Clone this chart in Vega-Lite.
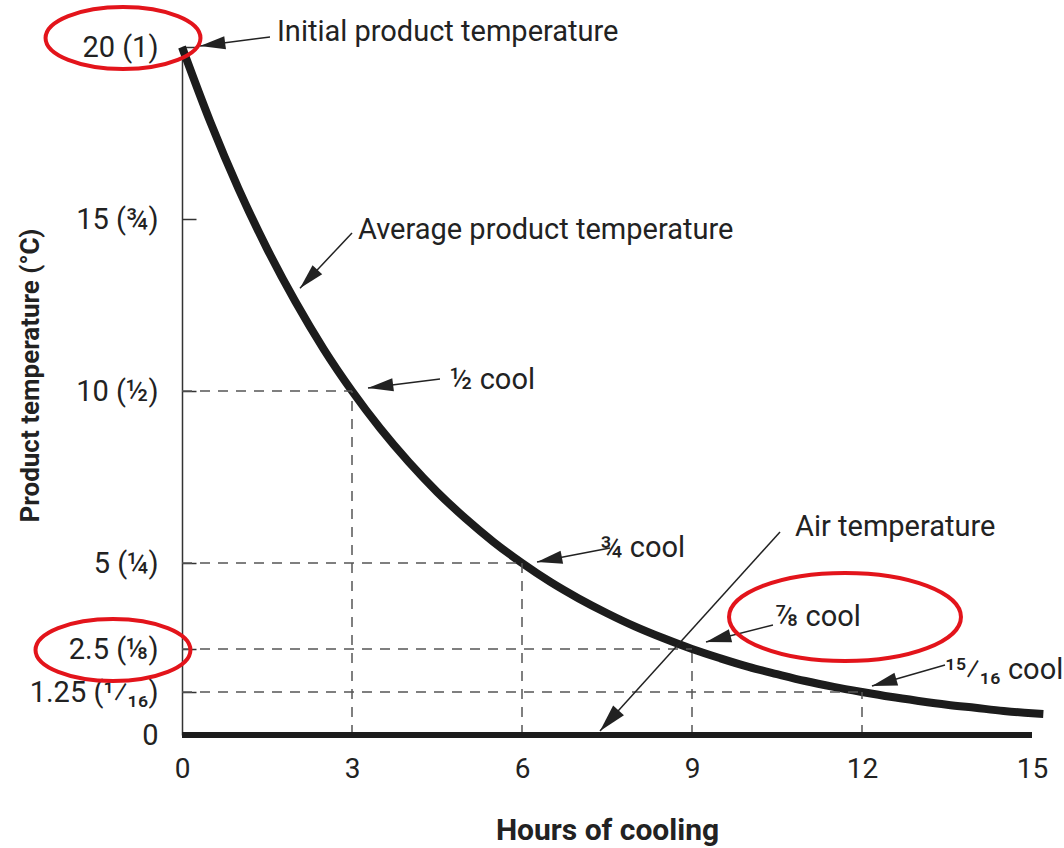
{
  "$schema": "https://vega.github.io/schema/vega-lite/v6.json",
  "width": 850,
  "height": 688,
  "autosize": {"type": "none"},
  "padding": {"left": 182, "top": 47, "right": 32, "bottom": 113},
  "background": "white",
  "config": {
    "view": {"stroke": null},
    "font": "Roboto",
    "axis": {"grid": false, "labelFont": "Roboto", "titleFont": "Roboto", "labelColor": "#222", "titleColor": "#222"}
  },
  "datasets": {
    "curve": [
      {"hours": 0, "temp": 20}, {"hours": 0.5, "temp": 17.82}, {"hours": 1, "temp": 15.87}, {"hours": 1.5, "temp": 14.14},
      {"hours": 2, "temp": 12.6}, {"hours": 2.5, "temp": 11.22}, {"hours": 3, "temp": 10.0}, {"hours": 3.5, "temp": 8.91},
      {"hours": 4, "temp": 7.94}, {"hours": 4.5, "temp": 7.07}, {"hours": 5, "temp": 6.3}, {"hours": 5.5, "temp": 5.61},
      {"hours": 6, "temp": 5.0}, {"hours": 6.5, "temp": 4.45}, {"hours": 7, "temp": 3.97}, {"hours": 7.5, "temp": 3.54},
      {"hours": 8, "temp": 3.15}, {"hours": 8.5, "temp": 2.81}, {"hours": 9, "temp": 2.5}, {"hours": 9.5, "temp": 2.23},
      {"hours": 10, "temp": 1.98}, {"hours": 10.5, "temp": 1.77}, {"hours": 11, "temp": 1.57}, {"hours": 11.5, "temp": 1.4},
      {"hours": 12, "temp": 1.25}, {"hours": 12.5, "temp": 1.11}, {"hours": 13, "temp": 0.99}, {"hours": 13.5, "temp": 0.88},
      {"hours": 14, "temp": 0.79}, {"hours": 14.5, "temp": 0.7}, {"hours": 15, "temp": 0.63}, {"hours": 15.2, "temp": 0.61}
    ],
    "guides": [
      {"hours": 3, "temp": 10, "base": 0}, {"hours": 6, "temp": 5, "base": 0}, {"hours": 9, "temp": 2.5, "base": 0}, {"hours": 12, "temp": 1.25, "base": 0}
    ],
    "air": [{"hours": 0, "hours2": 15, "temp": 0}],
    "notes": [
      {"label": "Initial product temperature", "hours": 1.676, "temp": 20.44},
      {"label": "Average product temperature", "hours": 3.106, "temp": 14.68},
      {"label": "½ cool", "hours": 4.729, "temp": 10.32},
      {"label": "¾ cool", "hours": 7.376, "temp": 5.436},
      {"label": "Air temperature", "hours": 10.818, "temp": 6.047},
      {"label": "⅞ cool", "hours": 10.465, "temp": 3.43},
      {"label": "¹⁵⁄₁₆ cool", "hours": 13.465, "temp": 1.89}
    ],
    "arrows": [
      {"name": "initial", "hours": 1.553, "temp": 20.29, "hours2": 0.318, "temp2": 20.03},
      {"name": "average", "hours": 3.0, "temp": 14.59, "hours2": 2.082, "temp2": 12.99},
      {"name": "half", "hours": 4.553, "temp": 10.35, "hours2": 3.282, "temp2": 10.09},
      {"name": "threequarter", "hours": 7.553, "temp": 5.436, "hours2": 6.265, "temp2": 5.029},
      {"name": "air", "hours": 10.553, "temp": 5.901, "hours2": 7.376, "temp2": 0.116},
      {"name": "seveneighth", "hours": 10.429, "temp": 3.198, "hours2": 9.247, "temp2": 2.703},
      {"name": "fifteen", "hours": 13.465, "temp": 2.035, "hours2": 12.176, "temp2": 1.424}
    ],
    "ellipses": [
      {"name": "a", "hours": -1.041, "temp": 20.26},
      {"name": "b", "hours": -1.218, "temp": 2.47},
      {"name": "c", "hours": 11.7, "temp": 3.43}
    ]
  },
  "layer": [
    {
      "data": {"name": "curve"},
      "mark": {"type": "line", "color": "#1c1c1c", "strokeWidth": 8, "interpolate": "monotone", "clip": false},
      "encoding": {
        "x": {"field": "hours", "type": "quantitative",
              "scale": {"domain": [0, 15], "nice": false, "zero": false},
              "axis": {"title": "Hours of cooling", "values": [0, 3, 6, 9, 12, 15], "format": "d", "domain": false, "ticks": false,
                       "labelFontSize": 28, "labelPadding": 20, "labelFlush": false,
                       "titleFontSize": 30, "titleFontWeight": "bold", "titleX": 425, "titleY": 95,
                       "titleAlign": "center", "titleBaseline": "middle"}},
        "y": {"field": "temp", "type": "quantitative",
              "scale": {"domain": [0, 20], "nice": false, "zero": false},
              "axis": {"title": "Product temperature (°C)", "values": [0, 1.25, 2.5, 5, 10, 15, 20],
                       "labelExpr": "datum.value == 20 ? '20 (1)' : datum.value == 15 ? '15 (¾)' : datum.value == 10 ? '10 (½)' : datum.value == 5 ? '5 (¼)' : datum.value == 2.5 ? '2.5 (⅛)' : datum.value == 1.25 ? '1.25 (¹⁄₁₆)' : '0'",
                       "domain": true, "domainColor": "#333", "domainWidth": 1.5,
                       "ticks": true, "tickSize": -14, "tickColor": "#333", "tickWidth": 1.5,
                       "labelFontSize": 29, "labelPadding": 38, "labelFlush": false,
                       "titleFontSize": 26, "titleFontWeight": "bold", "titleX": -152, "titleY": 328,
                       "titleAlign": "center", "titleBaseline": "middle", "titleAngle": -90}}
      }
    },
    {
      "data": {"name": "guides"},
      "mark": {"type": "rule", "color": "#555", "strokeWidth": 1.5, "strokeDash": [10, 8]},
      "encoding": {
        "x": {"field": "base", "type": "quantitative"},
        "x2": {"field": "hours"},
        "y": {"field": "temp", "type": "quantitative"}
      }
    },
    {
      "data": {"name": "guides"},
      "mark": {"type": "rule", "color": "#555", "strokeWidth": 1.5, "strokeDash": [10, 8]},
      "encoding": {
        "x": {"field": "hours", "type": "quantitative"},
        "y": {"field": "base", "type": "quantitative"},
        "y2": {"field": "temp"}
      }
    },
    {
      "data": {"name": "air"},
      "mark": {"type": "rule", "color": "#1c1c1c", "strokeWidth": 6},
      "encoding": {
        "x": {"field": "hours", "type": "quantitative"},
        "x2": {"field": "hours2"},
        "y": {"field": "temp", "type": "quantitative"}
      }
    },
    {
      "data": {"name": "arrows"},
      "mark": {"type": "rule", "color": "#222", "strokeWidth": 1.5, "clip": false},
      "encoding": {
        "x": {"field": "hours", "type": "quantitative"},
        "y": {"field": "temp", "type": "quantitative"},
        "x2": {"field": "hours2"},
        "y2": {"field": "temp2"}
      }
    },
    {
      "data": {"name": "arrows"},
      "transform": [{"filter": "datum.name == 'initial'"}],
      "mark": {"type": "point", "shape": "M 0 0 L 0.42 1.6 L -0.42 1.6 Z", "size": 1000, "filled": true, "color": "#222", "opacity": 1, "angle": 262.7},
      "encoding": {"x": {"field": "hours2", "type": "quantitative"}, "y": {"field": "temp2", "type": "quantitative"}}
    },
    {
      "data": {"name": "arrows"},
      "transform": [{"filter": "datum.name == 'average'"}],
      "mark": {"type": "point", "shape": "M 0 0 L 0.42 1.6 L -0.42 1.6 Z", "size": 1000, "filled": true, "color": "#222", "opacity": 1, "angle": 223.4},
      "encoding": {"x": {"field": "hours2", "type": "quantitative"}, "y": {"field": "temp2", "type": "quantitative"}}
    },
    {
      "data": {"name": "arrows"},
      "transform": [{"filter": "datum.name == 'half'"}],
      "mark": {"type": "point", "shape": "M 0 0 L 0.42 1.6 L -0.42 1.6 Z", "size": 1000, "filled": true, "color": "#222", "opacity": 1, "angle": 262.9},
      "encoding": {"x": {"field": "hours2", "type": "quantitative"}, "y": {"field": "temp2", "type": "quantitative"}}
    },
    {
      "data": {"name": "arrows"},
      "transform": [{"filter": "datum.name == 'threequarter'"}],
      "mark": {"type": "point", "shape": "M 0 0 L 0.42 1.6 L -0.42 1.6 Z", "size": 1000, "filled": true, "color": "#222", "opacity": 1, "angle": 259.1},
      "encoding": {"x": {"field": "hours2", "type": "quantitative"}, "y": {"field": "temp2", "type": "quantitative"}}
    },
    {
      "data": {"name": "arrows"},
      "transform": [{"filter": "datum.name == 'air'"}],
      "mark": {"type": "point", "shape": "M 0 0 L 0.42 1.6 L -0.42 1.6 Z", "size": 1200, "filled": true, "color": "#222", "opacity": 1, "angle": 222.1},
      "encoding": {"x": {"field": "hours2", "type": "quantitative"}, "y": {"field": "temp2", "type": "quantitative"}}
    },
    {
      "data": {"name": "arrows"},
      "transform": [{"filter": "datum.name == 'seveneighth'"}],
      "mark": {"type": "point", "shape": "M 0 0 L 0.42 1.6 L -0.42 1.6 Z", "size": 1000, "filled": true, "color": "#222", "opacity": 1, "angle": 255.8},
      "encoding": {"x": {"field": "hours2", "type": "quantitative"}, "y": {"field": "temp2", "type": "quantitative"}}
    },
    {
      "data": {"name": "arrows"},
      "transform": [{"filter": "datum.name == 'fifteen'"}],
      "mark": {"type": "point", "shape": "M 0 0 L 0.42 1.6 L -0.42 1.6 Z", "size": 1000, "filled": true, "color": "#222", "opacity": 1, "angle": 254.0},
      "encoding": {"x": {"field": "hours2", "type": "quantitative"}, "y": {"field": "temp2", "type": "quantitative"}}
    },
    {
      "data": {"name": "notes"},
      "mark": {"type": "text", "align": "left", "baseline": "middle", "fontSize": 29, "color": "#222", "font": "Roboto"},
      "encoding": {
        "x": {"field": "hours", "type": "quantitative"},
        "y": {"field": "temp", "type": "quantitative"},
        "text": {"field": "label"}
      }
    },
    {
      "data": {"name": "ellipses"},
      "transform": [{"filter": "datum.name != 'c'"}],
      "mark": {"type": "point", "shape": "M -1 0 A 1 0.4 0 1 0 1 0 A 1 0.4 0 1 0 -1 0 Z", "size": 24000, "filled": false, "color": "#e3141b", "strokeWidth": 4, "opacity": 1},
      "encoding": {"x": {"field": "hours", "type": "quantitative"}, "y": {"field": "temp", "type": "quantitative"}}
    },
    {
      "data": {"name": "ellipses"},
      "transform": [{"filter": "datum.name == 'c'"}],
      "mark": {"type": "point", "shape": "M -1 0 A 1 0.38 0 1 0 1 0 A 1 0.38 0 1 0 -1 0 Z", "size": 53800, "filled": false, "color": "#e3141b", "strokeWidth": 4, "opacity": 1},
      "encoding": {"x": {"field": "hours", "type": "quantitative"}, "y": {"field": "temp", "type": "quantitative"}}
    }
  ]
}
